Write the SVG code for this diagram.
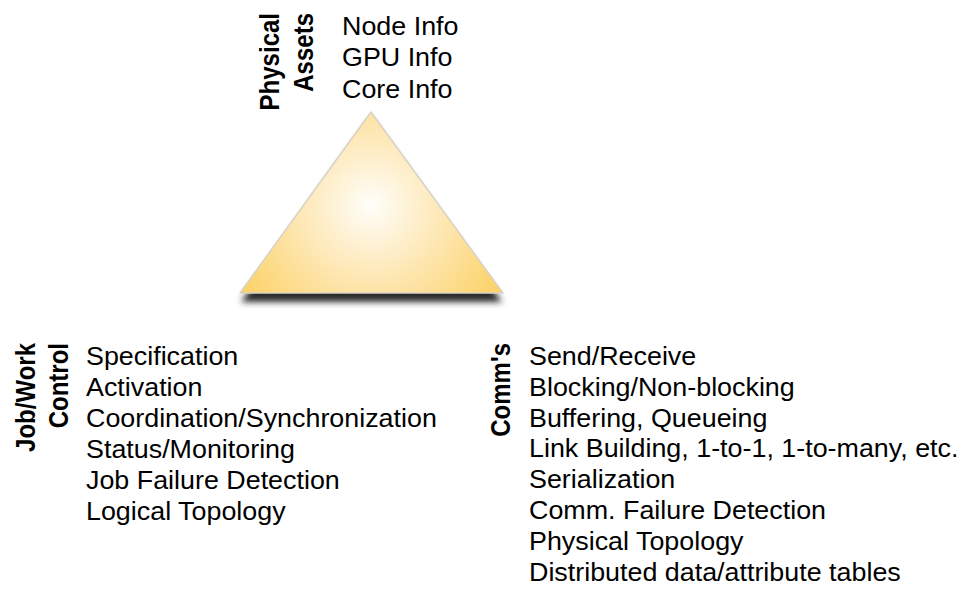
<svg xmlns="http://www.w3.org/2000/svg" width="964" height="591" viewBox="0 0 964 591">
  <style>
    .item { font-family: "Liberation Sans", Arial, sans-serif; font-size: 25px; fill: #000; }
    .label { font-family: "Liberation Sans", Arial, sans-serif; font-size: 24px; font-weight: bold; fill: #000; text-anchor: end; }
  </style>
  <defs>
    <radialGradient id="gold" gradientUnits="userSpaceOnUse" cx="371" cy="205" r="170">
      <stop offset="0" stop-color="#fffefa"/>
      <stop offset="0.45" stop-color="#fde6b0"/>
      <stop offset="1" stop-color="#fccd56"/>
    </radialGradient>
    <filter id="blur" x="-20%" y="-20%" width="140%" height="140%">
      <feGaussianBlur stdDeviation="3"/>
    </filter>
  </defs>
  <rect width="964" height="591" fill="#ffffff"/>

  <g id="triangle">
    <polygon points="371,120 241,302 502,302" fill="#2c2c2c" filter="url(#blur)"/>
    <polygon points="371,112 240,293 503,293" fill="url(#gold)" stroke="#d9d3c6" stroke-width="1.5" stroke-linejoin="round"/>
  </g>

  <g id="connectors"/>

  <g id="physical-assets">
    <text class="label" transform="translate(279,13) rotate(-90) scale(1,1.15)">Physical</text>
    <text class="label" transform="translate(313,13) rotate(-90) scale(1,1.15)">Assets</text>
    <g transform="translate(342,0) scale(1.075,1)">
      <text class="item" x="0" y="35">Node Info</text>
      <text class="item" x="0" y="66.5">GPU Info</text>
      <text class="item" x="0" y="98">Core Info</text>
    </g>
  </g>

  <g id="job-work-control">
    <text class="label" transform="translate(35,343) rotate(-90) scale(1,1.15)">Job/Work</text>
    <text class="label" transform="translate(68,343) rotate(-90) scale(1,1.15)">Control</text>
    <g transform="translate(86,0) scale(1.075,1)">
      <text class="item" x="0" y="365">Specification</text>
      <text class="item" x="0" y="396">Activation</text>
      <text class="item" x="0" y="427">Coordination/Synchronization</text>
      <text class="item" x="0" y="458">Status/Monitoring</text>
      <text class="item" x="0" y="489">Job Failure Detection</text>
      <text class="item" x="0" y="520">Logical Topology</text>
    </g>
  </g>

  <g id="comms">
    <text class="label" transform="translate(510,343) rotate(-90) scale(1,1.15)">Comm's</text>
    <g transform="translate(529,0) scale(1.075,1)">
      <text class="item" x="0" y="365">Send/Receive</text>
      <text class="item" x="0" y="395.8">Blocking/Non-blocking</text>
      <text class="item" x="0" y="426.6">Buffering, Queueing</text>
      <text class="item" x="0" y="457.4">Link Building, 1-to-1, 1-to-many, etc.</text>
      <text class="item" x="0" y="488.2">Serialization</text>
      <text class="item" x="0" y="519">Comm. Failure Detection</text>
      <text class="item" x="0" y="549.8">Physical Topology</text>
      <text class="item" x="0" y="580.6">Distributed data/attribute tables</text>
    </g>
  </g>
</svg>
